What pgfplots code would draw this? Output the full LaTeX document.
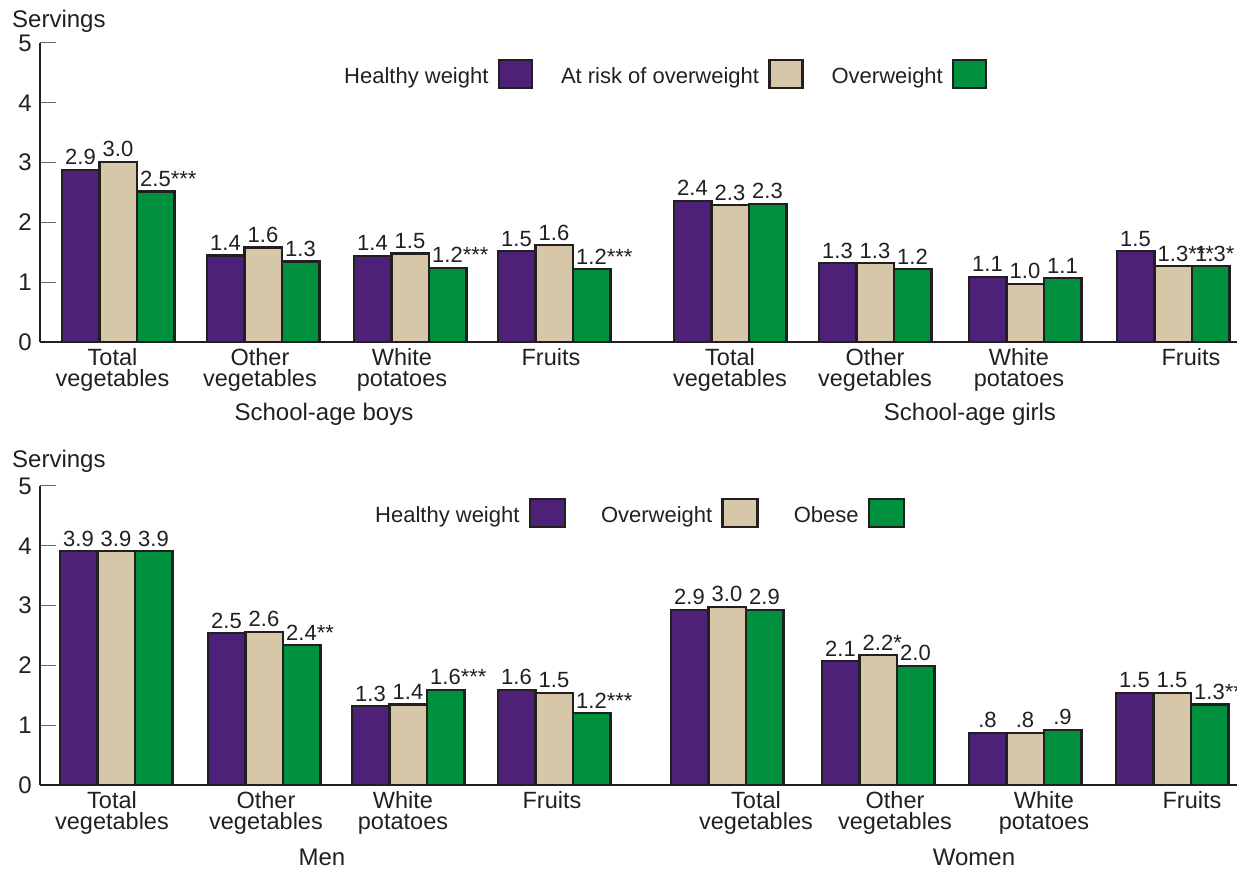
\documentclass[border=0pt]{standalone}
\usepackage{fontspec}
\setmainfont{Liberation Sans}
\usepackage{pgfplots}
\pgfplotsset{compat=1.18}

\definecolor{hw}{HTML}{4C2177}
\definecolor{ar}{HTML}{D6C7A8}
\definecolor{ow}{HTML}{00913F}
\definecolor{edge}{HTML}{231F20}

% asterisks hang to the right of the number
\protected\def\stars#1{\rlap{#1}}

\pgfplotsset{
  panel/.style={
    scale only axis, width=1197pt, height=299pt,
    xmin=40, xmax=1237, ymin=0, ymax=5,
    axis x line*=bottom, axis y line*=left,
    axis line style={draw=edge, line width=1.2pt, -},
    ytick={0,1,2,3,4,5}, ytick pos=left, tick align=inside,
    major tick length=16pt,
    ytick style={draw=black!60, line width=1pt},
    xtick style={draw=none},
    /pgf/number format/assume math mode=true,
    yticklabel style={font=\fontsize{24}{24}\selectfont, text=edge, inner sep=0pt, xshift=-8pt},
    xticklabel style={font=\fontsize{23.5}{21}\selectfont, text=edge, align=center, inner sep=0pt, yshift=10pt},
    ybar=0pt, bar width=37.5pt,
    every axis plot/.append style={draw=edge, line width=2.5pt},
    point meta=explicit symbolic,
    nodes near coords=\pgfplotspointmeta,
    every node near coord/.append style={font=\fontsize{22}{22}\selectfont, text=edge, anchor=base, inner sep=0pt, yshift=5pt},
    legend plot pos=right,
    legend columns=3,
  }
}

\begin{document}
\begin{tikzpicture}
\useasboundingbox (0,0) rectangle (1237pt,869pt);

% ---- school-age children
\begin{axis}[panel, at={(40pt,527pt)}, anchor=south west,
  xtick={112.5,260,402,551,730,875,1019,1191},
  xticklabels={{Total\\vegetables},{Other\\vegetables},{White\\potatoes},Fruits,
               {Total\\vegetables},{Other\\vegetables},{White\\potatoes},Fruits},
  legend image code/.code={\draw[#1] (0pt,-12pt) rectangle (33pt,16pt);},
  legend style={draw=none, fill=none, inner sep=0pt, font=\fontsize{22}{22}\selectfont,
    text=edge, nodes={inner sep=0pt}, at={(axis cs:344,4.48)}, anchor=west,
    /tikz/every odd column/.append style={column sep=9pt},
    /tikz/every even column/.append style={column sep=28pt}},
]
\addplot[fill=hw] coordinates {
  (118,2.88) [2.9] (263,1.45) [1.4] (410,1.44) [1.4] (554,1.52) [1.5]
  (730,2.36) [2.4] (875,1.32) [1.3] (1025,1.09) [1.1] (1173,1.52) [1.5]};
\addplot[fill=ar] coordinates {
  (118,3.01) [3.0] (263,1.58) [1.6] (410,1.48) [1.5] (554,1.62) [1.6]
  (730,2.29) [2.3] (875,1.32) [1.3] (1025,0.97) [1.0] (1173,1.27) [1.3\stars{***}]};
\addplot[fill=ow] coordinates {
  (118,2.52) [2.5\stars{***}] (263,1.35) [1.3] (410,1.24) [1.2\stars{***}] (554,1.22) [1.2\stars{***}]
  (730,2.31) [2.3] (875,1.22) [1.2] (1025,1.07) [1.1] (1173,1.27) [1.3\stars{*}]};
\legend{Healthy weight, At risk of overweight, Overweight}
\end{axis}

% ---- adults
\begin{axis}[panel, at={(40pt,84pt)}, anchor=south west,
  xtick={112,266,403,552,756,895,1044,1192},
  xticklabels={{Total\\vegetables},{Other\\vegetables},{White\\potatoes},Fruits,
               {Total\\vegetables},{Other\\vegetables},{White\\potatoes},Fruits},
  legend image code/.code={\draw[#1] (0pt,-12pt) rectangle (35pt,16pt);},
  legend style={draw=none, fill=none, inner sep=0pt, font=\fontsize{22}{22}\selectfont,
    text=edge, nodes={inner sep=0pt}, at={(axis cs:375,4.55)}, anchor=west,
    /tikz/every odd column/.append style={column sep=9pt},
    /tikz/every even column/.append style={column sep=35pt}},
]
\addplot[fill=hw] coordinates {
  (116,3.91) [3.9] (264,2.54) [2.5] (408,1.32) [1.3] (554,1.59) [1.6]
  (727,2.93) [2.9] (878,2.07) [2.1] (1025,0.87) [.8] (1172,1.54) [1.5]};
\addplot[fill=ar] coordinates {
  (116,3.91) [3.9] (264,2.56) [2.6] (408,1.35) [1.4] (554,1.54) [1.5]
  (727,2.98) [3.0] (878,2.17) [2.2\stars{*}] (1025,0.87) [.8] (1172,1.54) [1.5]};
\addplot[fill=ow] coordinates {
  (116,3.91) [3.9] (264,2.34) [2.4\stars{**}] (408,1.59) [1.6\stars{***}] (554,1.20) [1.2\stars{***}]
  (727,2.93) [2.9] (878,1.99) [2.0] (1025,0.92) [.9] (1172,1.35) [1.3\stars{**}]};
\legend{Healthy weight, Overweight, Obese}
\end{axis}

\begin{scope}[every node/.style={inner sep=0pt, text=edge, font=\fontsize{24}{24}\selectfont}]
\node[anchor=base west] at (12pt,841pt) {Servings};
\node[anchor=base west] at (12pt,401pt) {Servings};
\node[anchor=base] at (324pt,448pt) {School-age boys};
\node[anchor=base] at (970pt,448pt) {School-age girls};
\node[anchor=base] at (322pt,3pt) {Men};
\node[anchor=base] at (974pt,3pt) {Women};
\end{scope}
\end{tikzpicture}
\end{document}
